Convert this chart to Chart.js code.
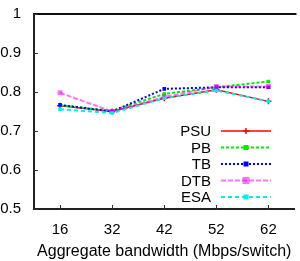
<!DOCTYPE html>
<html lang="en">
<head>
    <meta charset="UTF-8">
    <title>Aggregate bandwidth chart</title>
    <script src="https://cdn.jsdelivr.net/npm/chart.js"></script>
    <style>
        body { margin: 0; background: #fff; }
        canvas { display: block; }
    </style>
</head>
<body>
    <canvas id="chart" width="300" height="261"></canvas>
    <script>
        const categories = ['16', '32', '42', '52', '62'];
        const psu = [0.765, 0.750, 0.784, 0.806, 0.776];
        const pb  = [0.766, 0.752, 0.795, 0.812, 0.827];
        const tb  = [0.767, 0.750, 0.808, 0.812, 0.812];
        const dtb = [0.798, 0.750, 0.787, 0.814, 0.814];
        const esa = [0.756, 0.746, 0.784, 0.804, 0.776];
        const yTicks = [0.5, 0.6, 0.7, 0.8, 0.9, 1];

        const FONT = 'Liberation Sans, Arial, sans-serif';

        // gnuplot-ish frame: top border, inward ticks, legend with text left of the sample line
        const framePlugin = {
            id: 'frame',
            afterDraw(chart) {
                const { ctx, chartArea: a, scales } = chart;
                ctx.save();
                ctx.strokeStyle = '#111';
                ctx.lineWidth = 2;
                ctx.beginPath();
                ctx.moveTo(a.left, a.top);
                ctx.lineTo(a.right + 2, a.top);
                ctx.stroke();
                ctx.lineWidth = 1;
                ctx.strokeStyle = '#333';
                ctx.beginPath();
                yTicks.forEach(v => {
                    const y = Math.round(scales.y.getPixelForValue(v)) + 0.5;
                    ctx.moveTo(a.left, y);
                    ctx.lineTo(a.left + 4, y);
                });
                categories.forEach((c, i) => {
                    const x = Math.round(scales.x.getPixelForValue(i)) + 0.5;
                    ctx.moveTo(x, a.bottom);
                    ctx.lineTo(x, a.bottom - 4);
                });
                ctx.stroke();

                ctx.font = '15px ' + FONT;
                ctx.textAlign = 'right';
                ctx.textBaseline = 'middle';
                chart.data.datasets.forEach((ds, i) => {
                    const y = 131 + i * 16.5;
                    ctx.fillStyle = '#000';
                    ctx.fillText(ds.label, 211, y + 1);
                    ctx.strokeStyle = ds.borderColor;
                    ctx.lineWidth = ds.borderWidth;
                    ctx.setLineDash(ds.borderDash || []);
                    ctx.beginPath();
                    ctx.moveTo(221, y);
                    ctx.lineTo(271, y);
                    ctx.stroke();
                    ctx.setLineDash([]);
                    const r = ds.pointRadius;
                    if (ds.pointStyle === 'cross') {
                        ctx.lineWidth = 1.5;
                        ctx.beginPath();
                        ctx.moveTo(246 - r, y); ctx.lineTo(246 + r, y);
                        ctx.moveTo(246, y - r); ctx.lineTo(246, y + r);
                        ctx.stroke();
                    } else {
                        ctx.fillStyle = ds.pointBackgroundColor;
                        ctx.fillRect(246 - r, y - r, 2 * r, 2 * r);
                    }
                });
                ctx.restore();
            }
        };

        function series(label, data, color, dash, style, radius, width, i) {
            return {
                label, data,
                borderColor: color,
                backgroundColor: color,
                pointBackgroundColor: color,
                pointBorderColor: color,
                borderWidth: width,
                borderDash: dash,
                pointStyle: style,
                pointRadius: radius,
                pointBorderWidth: style === 'cross' ? 1.5 : 0,
                tension: 0,
                fill: false,
                order: 4 - i
            };
        }

        new Chart(document.getElementById('chart'), {
            type: 'line',
            data: {
                labels: categories,
                datasets: [
                    series('PSU', psu, '#ff0000', [], 'cross', 3, 1.5, 0),
                    series('PB', pb, '#00ee00', [3, 2], 'rect', 2.5, 2, 1),
                    series('TB', tb, '#0000ff', [2, 2], 'rect', 2.5, 2, 2),
                    series('DTB', dtb, 'rgba(255,0,255,0.55)', [5, 2], 'rect', 3.5, 2, 3),
                    series('ESA', esa, '#00eeee', [4, 3], 'rect', 2.5, 2, 4)
                ]
            },
            options: {
                responsive: false,
                animation: false,
                layout: { padding: { top: 14, right: 0, left: 0, bottom: 0 } },
                plugins: { legend: { display: false }, tooltip: { enabled: false } },
                scales: {
                    x: {
                        type: 'category',
                        offset: true,
                        grid: { display: false },
                        border: { display: true, color: '#222', width: 2 },
                        ticks: { color: '#000', font: { family: FONT, size: 15 }, padding: 4, maxRotation: 0 },
                        title: { display: true, text: 'Aggregate bandwidth (Mbps/switch)', color: '#000',
                                 font: { family: FONT, size: 16 }, padding: { top: 0, bottom: 0 } },
                        afterFit(scale) { scale.height = 52; }
                    },
                    y: {
                        min: 0.5, max: 1,
                        grid: { display: false },
                        border: { display: true, color: '#222', width: 2 },
                        afterBuildTicks(scale) { scale.ticks = yTicks.map(v => ({ value: v })); },
                        ticks: { color: '#000', font: { family: FONT, size: 15 }, padding: 5,
                                 callback: v => String(Math.round(v * 10) / 10) },
                        afterFit(scale) { scale.width = 34; }
                    }
                }
            },
            plugins: [framePlugin]
        });
    </script>
</body>
</html>
